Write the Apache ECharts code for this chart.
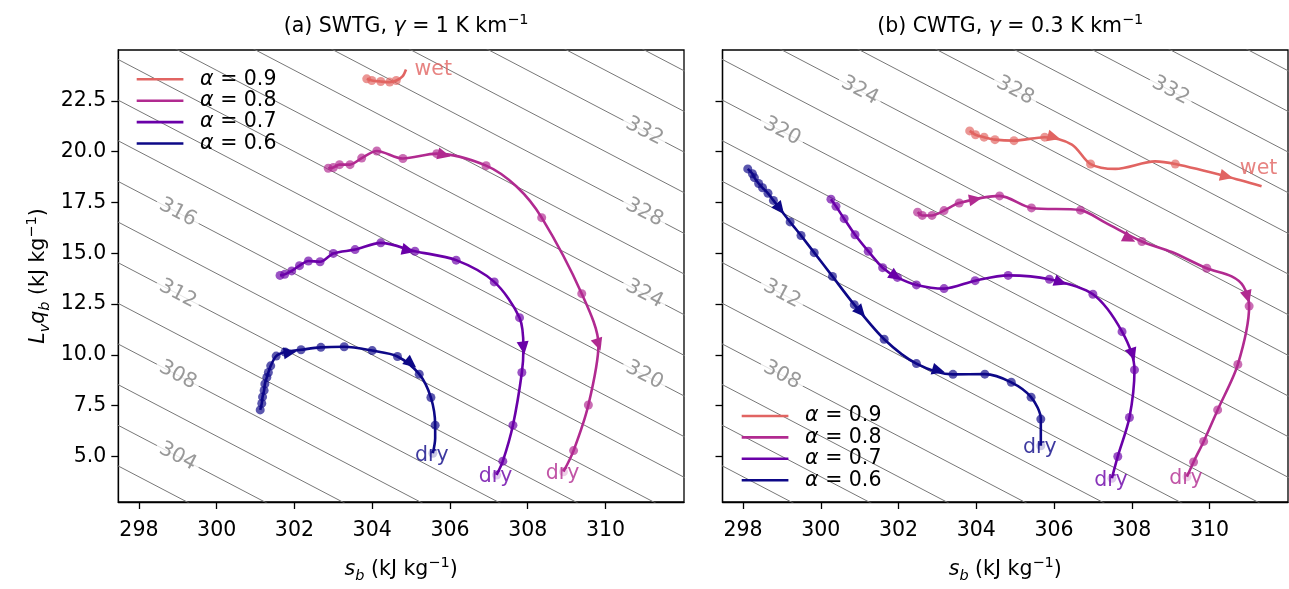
<!DOCTYPE html>
<html><head><meta charset="utf-8">
<script src="https://cdn.jsdelivr.net/npm/echarts@6/dist/echarts.min.js"></script>
<style>html,body{margin:0;padding:0;background:#fff}#c{width:1289px;height:589px}</style>
</head><body><div id="c"></div>
<script>
// ---------------- data ----------------
const seriesNames = ['α = 0.9', 'α = 0.8', 'α = 0.7', 'α = 0.6'];
const xTicks = [298, 300, 302, 304, 306, 308, 310];
const yTicks = [5, 7.5, 10, 12.5, 15, 17.5, 20, 22.5];
const sRange = [297.47, 312.02];
const qRange = [2.76, 25.0];
const isentropeLevels = [300,302,304,306,308,310,312,314,316,318,320,322,324,326,328,330,332,334,336,338];
// [level, s position of label]
const isentropeLabelsA = [[304,299],[308,299],[312,299],[316,299],[320,311],[324,311],[328,311],[332,311]];
const isentropeLabelsB = [[308,299],[312,299],[320,299],[324,301],[328,305],[332,309]];

// trajectories: [s_b, L_v q_b, kind]  kind 1 = marked point, 0 = path only, 3 = final (faint) point
const swtg09 = [[303.86,23.58,1],[303.99,23.50,1],[304.22,23.45,1],[304.45,23.42,1],[304.62,23.50,1],[304.78,23.70,0],[304.87,24.04,0]];
const swtg08 = [[302.87,19.18,1],[303.00,19.22,1],[303.16,19.36,1],[303.43,19.36,1],[303.73,19.68,1],[304.12,20.03,1],[304.79,19.66,1],[305.66,19.90,1],[306.93,19.31,1],[307.72,18.27,0],[308.36,16.75,1],[309.39,13.01,1],[309.82,10.50,0],[309.56,7.53,1],[309.18,5.29,1],[308.92,4.25,3]];
const swtg07 = [[301.63,13.91,1],[301.75,13.96,1],[301.93,14.13,1],[302.13,14.39,1],[302.36,14.62,1],[302.66,14.58,1],[303.00,14.99,1],[303.56,15.18,1],[304.22,15.51,1],[305.10,15.10,1],[306.16,14.66,1],[307.14,13.59,1],[307.79,11.83,1],[307.89,10.34,0],[307.85,9.13,1],[307.62,6.54,1],[307.36,4.77,1],[307.20,4.09,3]];
const swtg06 = [[301.12,7.29,1],[301.16,7.61,1],[301.18,7.93,1],[301.22,8.25,1],[301.24,8.57,1],[301.29,8.89,1],[301.33,9.13,1],[301.39,9.46,1],[301.53,9.94,1],[301.76,10.14,1],[302.17,10.25,1],[302.68,10.37,1],[303.28,10.40,1],[304.00,10.21,1],[304.65,9.92,1],[305.21,9.05,1],[305.51,7.90,1],[305.62,6.54,1],[305.62,5.90,0],[305.56,5.16,3]];
const cwtg09 = [[303.83,21.02,1],[303.98,20.83,1],[304.20,20.71,1],[304.48,20.59,1],[304.97,20.54,1],[305.76,20.71,1],[306.46,20.35,0],[306.94,19.39,1],[307.58,19.15,0],[308.60,19.52,0],[309.12,19.39,1],[310.44,18.78,0],[311.34,18.30,0]];
const cwtg08 = [[302.49,17.02,1],[302.61,16.86,1],[302.86,16.86,1],[303.17,17.10,1],[303.56,17.47,1],[304.60,17.82,1],[305.42,17.23,1],[306.68,17.12,1],[307.32,16.51,0],[308.26,15.58,1],[309.03,15.06,0],[309.93,14.26,1],[310.57,13.86,0],[310.87,13.38,0],[311.02,12.40,1],[310.73,9.53,1],[310.21,7.29,1],[309.85,5.74,1],[309.59,4.73,1],[309.42,4.00,3]];
const cwtg07 = [[300.26,17.66,1],[300.39,17.31,1],[300.60,16.70,1],[300.88,15.91,1],[301.22,15.10,1],[301.59,14.29,1],[301.97,13.81,1],[302.46,13.44,1],[303.17,13.26,1],[303.97,13.65,1],[304.82,13.91,1],[305.88,13.72,1],[307.00,12.98,1],[307.75,11.14,1],[308.07,9.26,1],[307.94,6.92,1],[307.64,5.00,1],[307.49,3.93,3]];
const cwtg06 = [[298.12,19.15,1],[298.24,18.91,1],[298.29,18.72,1],[298.40,18.43,1],[298.50,18.22,1],[298.64,17.95,1],[298.78,17.60,1],[299.21,16.54,1],[299.49,15.87,1],[299.83,15.03,1],[300.30,13.86,1],[300.86,12.47,1],[301.63,10.77,1],[302.46,9.57,1],[303.40,9.04,1],[304.22,9.05,1],[304.90,8.65,1],[305.41,7.92,1],[305.66,6.84,1],[305.66,5.53,3]];

// direction arrows along each trajectory: [s_b, L_v q_b]
const swtgArrows = [[], [[305.85,19.84],[309.82,10.50]], [[304.93,15.14],[307.89,10.34]], [[301.89,10.12],[305.00,9.58]]];
const cwtgArrows = [[[306.00,20.71],[310.44,18.78]], [[303.98,17.66],[307.94,15.71],[310.98,12.85]], [[301.93,13.86],[306.17,13.57],[308.02,10.01]], [[298.95,17.18],[301.03,12.10],[303.03,9.23]]];

const swtgEndText = ['wet', 'dry', 'dry', 'dry'];
const cwtgEndText = ['wet', 'dry', 'dry', 'dry'];
const panelTitles = ['(a) SWTG, {i|γ} = 1 K km{sup|−1}', '(b) CWTG, {i|γ} = 0.3 K km{sup|−1}'];

// ---------------- styling / build ----------------
const COLORS = ['#e16462', '#b12a90', '#6a00a8', '#0d0887'];
const FONT = 'DejaVu Sans';
const FS = 20.5;
const GRIDS = [{left:118.3, top:50, width:565.7, height:462.5}, {left:722.5, top:50, width:565.5, height:462.5}];
const trajs = [[swtg09, swtg08, swtg07, swtg06], [cwtg09, cwtg08, cwtg07, cwtg06]];
const arrows = [swtgArrows, cwtgArrows];
const endTexts = [swtgEndText, cwtgEndText];
const isoLabels = [isentropeLabelsA, isentropeLabelsB];

const chart = echarts.init(document.getElementById('c'), null, {renderer: 'canvas'});

const rich = {
  i: {fontStyle: 'italic', fontSize: FS, fontFamily: FONT, lineHeight: 28},
  sup: {fontSize: 14.5, fontFamily: FONT, lineHeight: 14, verticalAlign: 'top'},
  sub: {fontSize: 14.5, fontFamily: FONT, fontStyle: 'italic', lineHeight: 14, verticalAlign: 'bottom'}
};

function buildOption(rotInfo) {
  const series = [];
  for (let g = 0; g < 2; g++) {
    // isentropes
    isentropeLevels.forEach(h => {
      series.push({type:'line', xAxisIndex:g, yAxisIndex:g, silent:true, symbol:'none', z:1,
        lineStyle:{color:'#777', width:1}, animation:false,
        data:[[sRange[0]-2, h-(sRange[0]-2)], [sRange[1]+2, h-(sRange[1]+2)]]});
    });
    // isentrope labels
    series.push({type:'scatter', xAxisIndex:g, yAxisIndex:g, silent:true, z:2, symbolSize:1,
      itemStyle:{color:'rgba(0,0,0,0)'},
      label:{show:true, position:'inside', rotate: rotInfo ? rotInfo.iso : -28,
        formatter: p => String(p.value[2]), color:'#808080', fontSize:FS, fontFamily:FONT,
        backgroundColor:'#fff', padding:[0,4]},
      data: isoLabels[g].map(l => [l[1], l[0]-l[1], l[0]])});
    // trajectories
    trajs[g].forEach((pts, ai) => {
      const col = COLORS[ai];
      series.push({type:'line', name:seriesNames[ai], xAxisIndex:g, yAxisIndex:g, z:3,
        smooth:0.3, showAllSymbol:true, symbol:'circle', symbolSize:9, color:col,
        lineStyle:{color:col, width:2.6}, itemStyle:{color:col, opacity:0.68},
        emphasis:{disabled:true},
        data: pts.map(p => {
          const it = {value:[p[0], p[1]]};
          if (p[2] === 0) it.symbol = 'none';
          if (p[2] === 3) it.itemStyle = {color:col, opacity:0.22};
          return it;
        })});
      // arrows
      const arr = arrows[g][ai];
      if (arr.length) {
        series.push({type:'scatter', xAxisIndex:g, yAxisIndex:g, z:4, silent:true,
          symbol:'triangle', symbolSize:[12,13], itemStyle:{color:col, opacity:1},
          data: arr.map((a, k) => ({value:[a[0], a[1]], symbolRotate: rotInfo ? rotInfo.arrows[g][ai][k] : 0}))});
      }
      // end text
      const last = pts[pts.length-1];
      const txt = endTexts[g][ai];
      let lab;
      if (txt === 'wet') {
        lab = g === 0 ? {position:'right', distance:8} : {position:'top', distance:6, offset:[-3,0]};
      } else {
        lab = {position:'inside', offset:[-1,2]};
      }
      series.push({type:'scatter', xAxisIndex:g, yAxisIndex:g, z:5, silent:true, symbolSize:1,
        itemStyle:{color:'rgba(0,0,0,0)'},
        label:Object.assign({show:true, formatter:txt, color:col, fontSize:FS, fontFamily:FONT}, lab),
        data:[[last[0], last[1]]]});
    });
  }

  const xAxes = [0,1].map(g => ({type:'value', gridIndex:g, min:sRange[0], max:sRange[1],
    splitLine:{show:false},
    axisLine:{show:true, onZero:false, lineStyle:{color:'#000', width:1.3}},
    axisTick:{show:true, length:7, customValues:xTicks, lineStyle:{color:'#000', width:1.3}},
    axisLabel:{show:true, customValues:xTicks, margin:18, color:'#000', fontSize:FS, fontFamily:FONT},
    name:'{i|s}{sub|b} (kJ kg{sup|−1})', nameLocation:'middle', nameGap:54,
    nameTextStyle:{color:'#000', fontSize:FS, fontFamily:FONT, lineHeight:28, rich:rich}}));
  const yAxes = [0,1].map(g => ({type:'value', gridIndex:g, min:qRange[0], max:qRange[1],
    splitLine:{show:false},
    axisLine:{show:true, onZero:false, lineStyle:{color:'#000', width:1.3}},
    axisTick:{show:true, length:7, customValues:yTicks, lineStyle:{color:'#000', width:1.3}},
    axisLabel:{show:g===0, customValues:yTicks, margin:12, color:'#000', fontSize:FS, fontFamily:FONT,
      formatter: v => Number(v).toFixed(1)},
    name: g===0 ? '{i|L}{sub|v}{i|q}{sub|b} (kJ kg{sup|−1})' : '', nameLocation:'middle', nameGap:66, nameRotate:90,
    nameTextStyle:{color:'#000', fontSize:FS, fontFamily:FONT, lineHeight:28, rich:rich}}));

  const legendBase = {orient:'vertical', icon:'rect', itemWidth:46.7, itemHeight:2.6, itemGap:0.4, padding:0,
    data:seriesNames, selectedMode:false, itemStyle:{opacity:1},
    formatter: n => n.replace('α', '{i|α}'),
    textStyle:{color:'#000', fontSize:FS, fontFamily:FONT, lineHeight:21, padding:[0,0,0,11.7],
      rich:{i:{fontStyle:'italic', fontSize:FS, fontFamily:FONT, lineHeight:21}}}};

  return {
    animation:false,
    backgroundColor:'#fff',
    textStyle:{fontFamily:FONT},
    title: panelTitles.map((t, g) => ({text:t, left:GRIDS[g].left + GRIDS[g].width/2, textAlign:'center', top:8,
      textStyle:{color:'#000', fontSize:FS, fontWeight:'normal', fontFamily:FONT, lineHeight:28, rich:rich}})),
    legend:[Object.assign({left:136.7, top:68.8}, legendBase), Object.assign({left:741.7, top:405.5}, legendBase)],
    grid: GRIDS.map(gr => Object.assign({show:true, borderColor:'#000', borderWidth:1.3, containLabel:false}, gr)),
    xAxis:xAxes, yAxis:yAxes, series:series
  };
}

chart.setOption(buildOption(null));

// compute on-screen angles for labels and arrows from the axes' own scales
function px(g, p) { return chart.convertToPixel({gridIndex:g}, p); }
const a1 = px(0, [300, 10]), a2 = px(0, [302, 8]);
const isoRot = Math.atan2(-(a2[1]-a1[1]), a2[0]-a1[0]) * 180 / Math.PI;
const arrowRots = [0,1].map(g => trajs[g].map((pts, ai) => arrows[g][ai].map(a => {
  const P = px(g, a);
  let best = null, bd = Infinity;
  for (let i = 0; i < pts.length-1; i++) {
    const A = px(g, [pts[i][0], pts[i][1]]), B = px(g, [pts[i+1][0], pts[i+1][1]]);
    const vx = B[0]-A[0], vy = B[1]-A[1];
    const L2 = vx*vx+vy*vy || 1;
    let t = ((P[0]-A[0])*vx + (P[1]-A[1])*vy)/L2; t = Math.max(0, Math.min(1, t));
    const dx = A[0]+t*vx-P[0], dy = A[1]+t*vy-P[1];
    const d = dx*dx+dy*dy;
    if (d < bd) { bd = d; best = [vx, vy]; }
  }
  const th = Math.atan2(-best[1], best[0]) * 180 / Math.PI;
  return th - 90;
})));
chart.setOption(buildOption({iso: isoRot, arrows: arrowRots}), true);
</script></body></html>
